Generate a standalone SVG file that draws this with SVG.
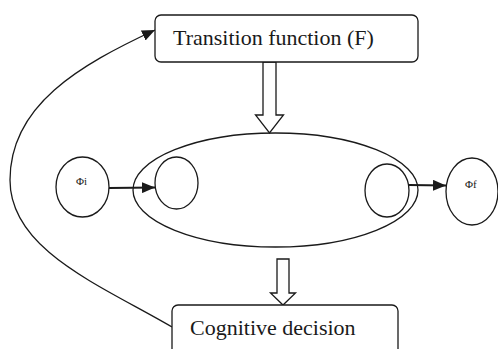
<svg xmlns="http://www.w3.org/2000/svg" width="498" height="349" viewBox="0 0 498 349">
<style>
.s{fill:none;stroke:#1a1a1a;stroke-width:1.3}
.a{fill:none;stroke:#1a1a1a;stroke-width:2}
.b{fill:#fff;stroke:#1a1a1a;stroke-width:1.3}
.t{font-family:"Liberation Serif","Times New Roman",serif;fill:#1a1a1a}
.big{font-size:22px}
.sm{font-size:11px}
</style>
<defs>
<marker id="ah" viewBox="0 0 13 11" refX="13" refY="5.5" markerWidth="13" markerHeight="11" markerUnits="userSpaceOnUse" orient="auto">
<path d="M0,0 L13,5.5 L0,11 z" fill="#1a1a1a"/>
</marker>
</defs>
<rect width="498" height="349" fill="#fff"/>
<g id="connectors">
<path class="s" d="M172,327 C100,285 10,250 10,180 C10,105 80,65 155,30" marker-end="url(#ah)"/>
<line class="a" x1="109" y1="188" x2="155" y2="187.5" marker-end="url(#ah)"/>
<line class="a" x1="409" y1="185" x2="446" y2="185.5" marker-end="url(#ah)"/>
<polygon class="b" points="263,62 276,62 276,115 283.5,115 269.5,133 255.5,115 263,115"/>
<polygon class="b" points="277,259 289,259 289,293 295.5,293 283,305 270.5,293 277,293"/>
</g>
<g id="transition">
<rect class="b" x="155" y="15" width="263" height="47" rx="6"/>
<text class="t big" x="173" y="45">Transition function (F)</text>
</g>
<g id="state-space">
<ellipse class="s" cx="275.5" cy="190" rx="142.5" ry="57"/>
</g>
<g id="inner-left">
<ellipse class="s" cx="176.5" cy="183" rx="21.5" ry="26"/>
</g>
<g id="inner-right">
<ellipse class="s" cx="387" cy="190.5" rx="22" ry="26.5"/>
</g>
<g id="phi-i">
<ellipse class="s" cx="82.5" cy="187" rx="26.5" ry="30"/>
<text class="t sm" x="76" y="185">Φi</text>
</g>
<g id="phi-f">
<ellipse class="s" cx="472" cy="191.5" rx="26" ry="33.5"/>
<text class="t sm" x="465" y="188">Φf</text>
</g>
<g id="decision">
<rect class="b" x="172" y="305" width="226" height="52" rx="6"/>
<text class="t big" x="190" y="335">Cognitive decision</text>
</g>
</svg>
